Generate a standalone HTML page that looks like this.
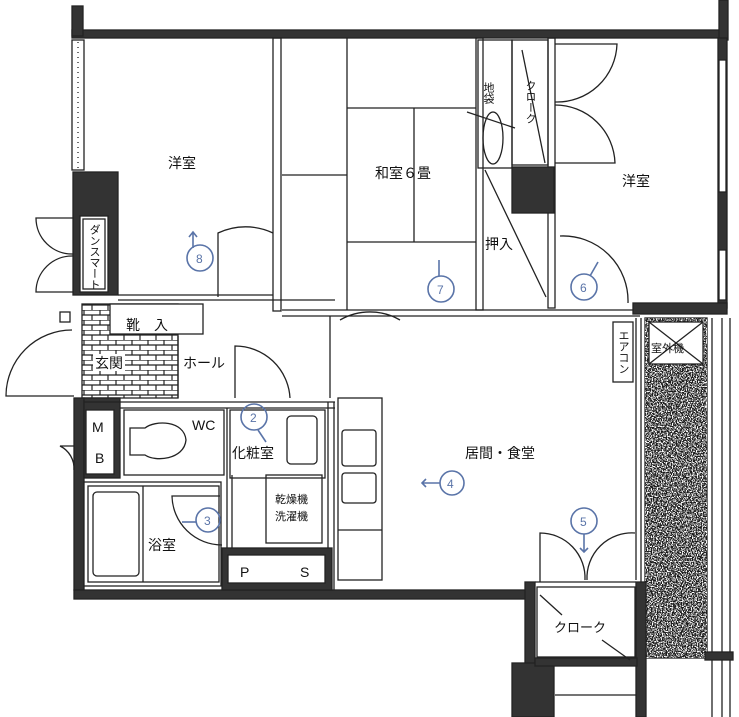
<!DOCTYPE html>
<html><head><meta charset="utf-8"><style>
html,body{margin:0;padding:0;background:#fff}
svg{display:block}
text{font-family:"Liberation Sans","Noto Sans CJK JP",sans-serif;fill:#111}
.b{fill:none;stroke:#5a74a8;stroke-width:1.6}
</style></head><body>
<svg width="739" height="717" viewBox="0 0 739 717" xmlns="http://www.w3.org/2000/svg">
<defs>
<filter id="n" x="0" y="0" width="100%" height="100%">
<feTurbulence type="fractalNoise" baseFrequency="0.8" numOctaves="2" seed="3"/>
<feColorMatrix type="matrix" values="0 0 0 0 1  0 0 0 0 1  0 0 0 0 1  9 0 0 0 -4.3"/>
</filter>
<pattern id="brick" width="16" height="10" patternUnits="userSpaceOnUse">
<rect width="16" height="10" fill="#fff"/>
<path d="M0 0H16M0 5H16M4 0V5M12 5V10" stroke="#222" stroke-width="1.2"/>
</pattern>
</defs>
<g stroke="#222" fill="none" stroke-width="1.3">
<rect x="72" y="30" width="655" height="8" fill="#333"/>
<rect x="72" y="6" width="11" height="30" fill="#333"/>
<rect x="719" y="0" width="9" height="40" fill="#333"/>
<rect x="72" y="40" width="12" height="130"/>
<line x1="78" y1="42" x2="78" y2="168" stroke-dasharray="1 4"/>
<rect x="73" y="172" width="45" height="123" fill="#333"/>
<rect x="80" y="216" width="28" height="76" fill="#fff"/>
<rect x="83" y="219" width="22" height="70"/>
<path d="M73 218 H36 A36 36 0 0 0 73 254 Z M73 292 H36 A36 36 0 0 1 73 256 Z" fill="#fff"/>
<rect x="273" y="38" width="8" height="273"/>
<line x1="118" y1="295" x2="273" y2="295"/><line x1="118" y1="300" x2="335" y2="300"/>
<path d="M218 297 V233 A64 64 0 0 1 273 233"/>
<rect x="476" y="38" width="7" height="272"/>
<rect x="548" y="38" width="7" height="270"/>
<line x1="282" y1="310" x2="640" y2="310"/><line x1="282" y1="316" x2="640" y2="316"/>
<path d="M347 38V310M347 108H476M282 175H347M347 242H476M414 108V242"/>
<rect x="478" y="40" width="34" height="128"/>
<rect x="512" y="40" width="36" height="125"/>
<path d="M467 112L515 128M522 50L545 163M485 170L546 297"/>
<ellipse cx="493" cy="138" rx="10" ry="26"/>
<rect x="512" y="167" width="42" height="46" fill="#333"/>
<path d="M555 44H617A60 60 0 0 1 555 102M555 105A60 60 0 0 1 615 163H555M560 236A65 65 0 0 1 628 303"/>
<rect x="718" y="38" width="9" height="270" fill="#333"/>
<rect x="719" y="60" width="7" height="132" fill="#fff"/>
<rect x="719" y="250" width="7" height="50" fill="#fff"/>
<rect x="633" y="303" width="94" height="11" fill="#333"/>
<rect x="645" y="318" width="62" height="340" fill="#1a1a1a"/>
<rect x="645" y="318" width="62" height="340" fill="#fff" filter="url(#n)" stroke="none"/>
<rect x="649" y="322" width="54" height="42" fill="#fff"/>
<path d="M649 322L703 364M703 322L649 364"/>
<path d="M712 318V717M722 318V717M730 318V717"/>
<rect x="705" y="652" width="28" height="8" fill="#333"/>
<rect x="613" y="322" width="20" height="60" fill="#fff"/>
<line x1="636" y1="318" x2="636" y2="580"/><line x1="641" y1="318" x2="641" y2="585"/>
<rect x="82" y="304" width="96" height="94" fill="url(#brick)"/>
<rect x="110" y="304" width="93" height="30" fill="#fff"/>
<rect x="93" y="354" width="32" height="17" fill="#fff" stroke="none"/>
<path d="M74 396H6A66 66 0 0 1 72 330"/>
<rect x="60" y="312" width="10" height="10"/>
<line x1="178" y1="336" x2="178" y2="398"/>
<path d="M235 398V346A55 55 0 0 1 290 398"/>
<line x1="330" y1="316" x2="330" y2="398"/>
<path d="M340 320A60 60 0 0 1 400 320"/>
<rect x="74" y="398" width="10" height="192" fill="#333"/>
<rect x="74" y="590" width="456" height="9" fill="#333"/>
<rect x="84" y="398" width="36" height="80" fill="#333"/>
<rect x="86" y="410" width="28" height="64" fill="#fff"/>
<path d="M74 446H60A25 25 0 0 1 74 470"/>
<line x1="84" y1="402" x2="335" y2="402"/><line x1="120" y1="408" x2="335" y2="408"/>
<rect x="124" y="410" width="100" height="65"/>
<path d="M130 428H145C155 420 184 420 186 440C184 460 155 462 145 455H130Z"/>
<rect x="84" y="482" width="137" height="104" fill="#fff"/>
<rect x="88" y="486" width="131" height="96"/>
<rect x="93" y="492" width="46" height="84" rx="4"/>
<line x1="143" y1="486" x2="143" y2="582"/>
<path d="M220 496H172A50 50 0 0 0 222 545"/>
<line x1="227" y1="408" x2="227" y2="548"/><line x1="232" y1="475" x2="232" y2="548"/>
<rect x="230" y="410" width="95" height="68"/>
<rect x="287" y="416" width="30" height="48" rx="4"/>
<rect x="266" y="475" width="56" height="68"/>
<rect x="222" y="548" width="110" height="42" fill="#333"/>
<rect x="228" y="555" width="97" height="28" fill="#fff"/>
<line x1="328" y1="402" x2="328" y2="548"/><line x1="334" y1="402" x2="334" y2="590"/>
<rect x="338" y="398" width="44" height="182"/>
<rect x="342" y="430" width="34" height="36" rx="3"/>
<rect x="342" y="473" width="34" height="30" rx="3"/>
<line x1="338" y1="530" x2="382" y2="530"/>
<rect x="525" y="582" width="10" height="135" fill="#333"/>
<rect x="636" y="582" width="10" height="135" fill="#333"/>
<rect x="512" y="663" width="42" height="54" fill="#333"/>
<rect x="535" y="658" width="102" height="8" fill="#333"/>
<rect x="537" y="587" width="98" height="70"/>
<path d="M540 595L562 615M602 640L630 660M555 695H636"/>
<path d="M540 582V533A45 45 0 0 1 585 580M635 533A45 45 0 0 0 587 580"/>
<line x1="535" y1="582" x2="636" y2="582"/>
</g>
<g font-size="14">
<text x="168" y="168">洋室</text>
<text x="375" y="178">和室６畳</text>
<text x="622" y="186">洋室</text>
<text x="485" y="249">押入</text>
<text x="465" y="458">居間・食堂</text>
<text x="126" y="330">靴　入</text>
<text x="95" y="368">玄関</text>
<text x="183" y="368">ホール</text>
<text x="192" y="430">WC</text>
<text x="232" y="458">化粧室</text>
<text x="148" y="550">浴室</text>
<text x="240" y="577">P</text>
<text x="300" y="577">S</text>
<text x="554" y="632" font-size="13">クローク</text>
<text x="92" y="432">M</text><text x="95" y="463">B</text>
<text x="275" y="503" font-size="11">乾燥機</text>
<text x="275" y="520" font-size="11">洗濯機</text>
<text x="488" y="82" font-size="11" writing-mode="tb">地袋</text>
<text x="530" y="80" font-size="11" writing-mode="tb">クローク</text>
<text x="94" y="224" font-size="11" writing-mode="tb">ダンスマート</text>
<text x="623" y="330" font-size="11" writing-mode="tb">エアコン</text>
<text x="651" y="352" font-size="11">室外機</text>
</g>
<g class="b">
<circle cx="200" cy="258" r="13"/><path d="M193 248V232M189 237L193 232L197 237"/>
<circle cx="441" cy="289" r="13"/><path d="M439 276V260"/>
<circle cx="584" cy="287" r="13"/><path d="M590 276L598 262"/>
<circle cx="452" cy="483" r="12"/><path d="M440 483H422M426 479L422 483L426 487"/>
<circle cx="584" cy="521" r="13"/><path d="M584 534V552M580 548L584 552L588 548"/>
<circle cx="208" cy="520" r="12"/><path d="M196 522H182"/>
<circle cx="254" cy="417" r="13"/><path d="M258 430L266 442"/>
</g>
<g font-size="12"><text x="196" y="263" style="fill:#5a74a8">8</text><text x="437" y="294" style="fill:#5a74a8">7</text><text x="580" y="292" style="fill:#5a74a8">6</text><text x="447" y="488" style="fill:#5a74a8">4</text><text x="580" y="526" style="fill:#5a74a8">5</text><text x="204" y="525" style="fill:#5a74a8">3</text><text x="250" y="422" style="fill:#5a74a8">2</text></g>
</svg>
</body></html>
